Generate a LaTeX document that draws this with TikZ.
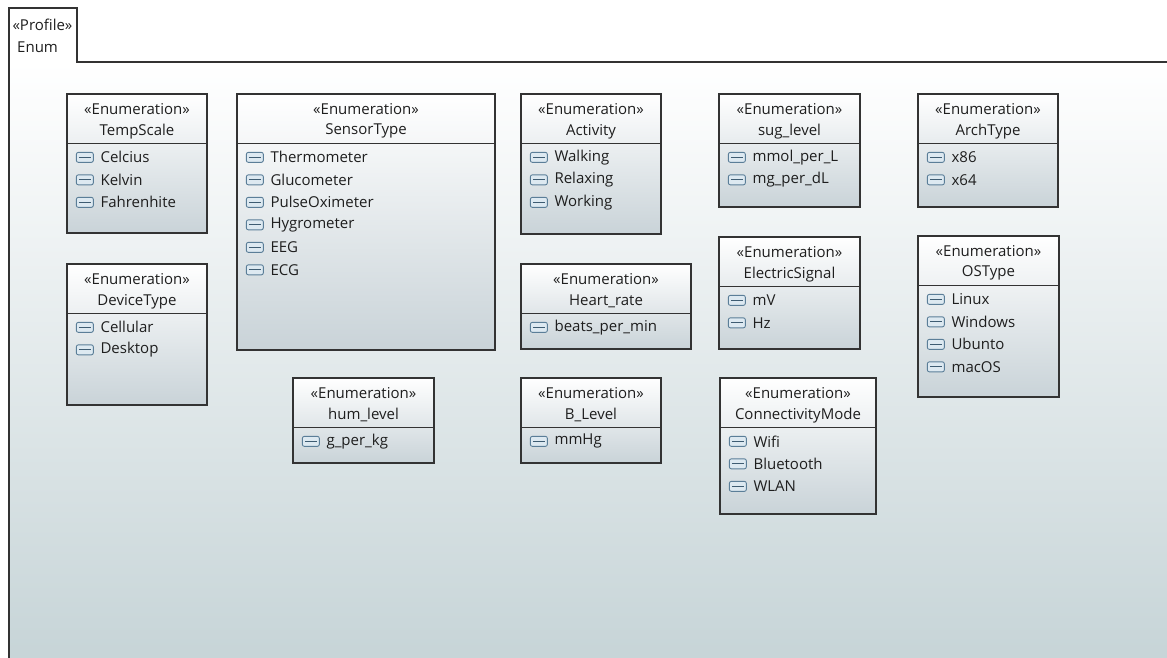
\documentclass[tikz,border=0pt]{standalone}
\usepackage{fontspec}
\setmainfont{Open Sans}
\definecolor{framebot}{HTML}{C6D4D7}
\definecolor{boxbot}{HTML}{C9D3D8}
\definecolor{edge}{HTML}{333333}
\definecolor{ink}{HTML}{1E1E1E}
\definecolor{iconedge}{HTML}{5B7E98}
\definecolor{iconfill}{HTML}{DDE9F1}
\definecolor{iconbar}{HTML}{3E5C72}
\tikzset{
  enumbox/.style={rectangle, draw=edge, line width=1.3pt, top color=white,
    bottom color=boxbot, inner sep=0pt},
  sepline/.style={draw=edge, line width=1.1pt},
  label/.style={text=ink, inner sep=0pt},
  itemtext/.style={text=ink, inner sep=0pt, anchor=west},
  enumicon/.style={rectangle, rounded corners=2pt, draw=iconedge, line width=0.9pt,
    fill=iconfill, minimum width=17pt, minimum height=10pt, inner sep=0pt,
    path picture={\draw[iconbar, line width=1.2pt]
      ([xshift=2.5pt]path picture bounding box.west) --
      ([xshift=-2.5pt]path picture bounding box.east);}},
  frameline/.style={draw=edge, line width=1.2pt}
}
% name, left x, top y, width, height, title, literals
\newcommand\enumbox[7]{%
  \node[enumbox, minimum width=#4pt, minimum height=#5pt]
    (#1) at ({#2+#4/2},{#3+#5/2}) {};
  \draw[sepline] ([yshift=-50pt]#1.north west) -- ([yshift=-50pt]#1.north east);
  \node[label] (#1-st) at ([yshift=-16pt]#1.north) {«Enumeration»};
  \node[label] (#1-nm) at ([yshift=-38pt]#1.north) {#6};
  \foreach \t [count=\i] in {#7} {
    \node[enumicon] (#1-ic\i) at ([xshift=18.5pt, yshift={-64pt-(\i-1)*22.5pt}]#1.north west) {};
    \node[itemtext] (#1-it\i) at ([xshift=34pt, yshift={-64pt-(\i-1)*22.5pt}]#1.north west) {\t};
  }%
}
\begin{document}
\begin{tikzpicture}[x=1pt, y=-1pt, font=\fontsize{15}{17}\selectfont]
\useasboundingbox (0,0) rectangle (1167,657);
\fill[white] (0,0) rectangle (1167,657);

% package frame with its name tab
\shade[top color=white, bottom color=framebot] (9,62) rectangle (1175,665);
\fill[white] (9,8) rectangle (77,62);
\draw[frameline] (9,665) -- (9,8) -- (77,8) -- (77,62) -- (1175,62);
\node[label, font=\fontsize{15}{17}\selectfont] (pkgst) at (42.5,25) {«Profile»};
\node[label, anchor=west, font=\fontsize{15}{17}\selectfont] (pkgnm) at (17,47) {Enum};

% enumerations
\enumbox{tempscale}{67}{94}{140}{139}{TempScale}{Celcius,Kelvin,Fahrenhite}
\enumbox{devicetype}{67}{264}{140}{141}{DeviceType}{Cellular,Desktop}
\enumbox{sensortype}{237}{94}{258}{256}{SensorType}{Thermometer,Glucometer,PulseOximeter,Hygrometer,EEG,ECG}
\enumbox{humlevel}{293}{378}{141}{85}{hum\_level}{g\_per\_kg}
\enumbox{activity}{521}{94}{140}{140}{Activity}{Walking,Relaxing,Working}
\enumbox{heartrate}{521}{264}{170}{85}{Heart\_rate}{beats\_per\_min}
\enumbox{blevel}{521}{378}{140}{85}{B\_Level}{mmHg}
\enumbox{suglevel}{719}{94}{141}{113}{sug\_level}{mmol\_per\_L,mg\_per\_dL}
\enumbox{electric}{719}{237}{141}{112}{ElectricSignal}{mV,Hz}
\enumbox{connmode}{720}{378}{156}{136}{ConnectivityMode}{Wifi,Bluetooth,WLAN}
\enumbox{archtype}{918}{94}{140}{113}{ArchType}{x86,x64}
\enumbox{ostype}{918}{236}{141}{161}{OSType}{Linux,Windows,Ubunto,macOS}
\end{tikzpicture}
\end{document}
